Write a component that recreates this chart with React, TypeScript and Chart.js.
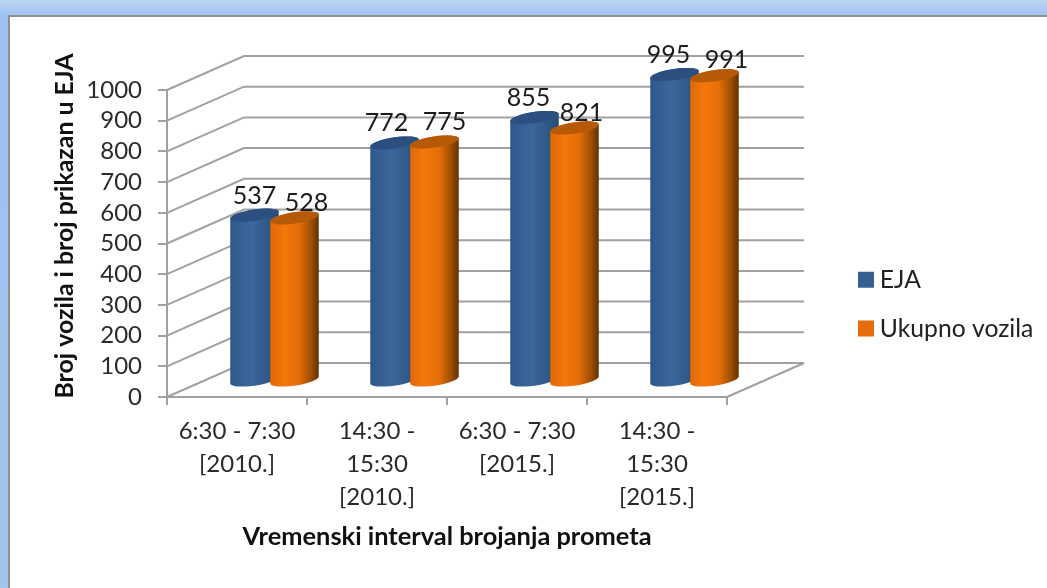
import React, { useEffect, useRef } from "react";
import { Chart, registerables } from "chart.js";

Chart.register(...registerables);

const categories = [
  ["6:30 - 7:30", "[2010.]"],
  ["14:30 -", "15:30", "[2010.]"],
  ["6:30 - 7:30", "[2015.]"],
  ["14:30 -", "15:30", "[2015.]"],
];
const ejaValues = [537, 772, 855, 995];
const totalValues = [528, 775, 821, 991];
const seriesNames = ["EJA", "Ukupno vozila"];
const yTitle = "Broj vozila i broj prikazan u EJA";
const xTitle = "Vremenski interval brojanja prometa";

const FONT = "Lato";
const DEPTH_X = 77;
const DEPTH_Y = -34;
const BAR_SHIFT_X = 37.5;
const GRID = "#a0a0a0";
const labelShiftX = [
  [0, -8, -6, -6],
  [12, 10, 7, 12],
];
const labelShiftY = [
  [-19, -20, -19.5, -20],
  [-15, -20, -15, -16],
];
const gradients = [
  [[0, "#2d578a"], [0.15, "#325e92"], [0.45, "#3b679b"], [0.75, "#315a8a"], [1, "#264a75"]],
  [[0, "#de6807"], [0.3, "#f5780a"], [0.6, "#e36d08"], [0.85, "#9a4c05"], [1, "#5f3003"]],
];
const capColors = ["#2b5080", "#b65a07"];

function cylinder(ctx: CanvasRenderingContext2D, cx: number, top: number, base: number, rx: number, index: number) {
  const ry = 5.6;
  const a = (-8.5 * Math.PI) / 180;
  const t0 = Math.atan((-ry / rx) * Math.tan(a));
  const g = ctx.createLinearGradient(cx - rx, 0, cx + rx, 0);
  gradients[index].forEach(([o, c]) => g.addColorStop(o as number, c as string));
  ctx.beginPath();
  ctx.ellipse(cx, base, rx, ry, a, t0, t0 + Math.PI);
  ctx.ellipse(cx, top, rx, ry, a, t0 + Math.PI, t0 + 2 * Math.PI);
  ctx.closePath();
  ctx.fillStyle = g;
  ctx.fill();
  ctx.beginPath();
  ctx.ellipse(cx, top, rx, ry, a, 0, Math.PI * 2);
  ctx.fillStyle = capColors[index];
  ctx.fill();
}

const scene3d = {
  id: "scene3d",
  afterLayout(chart: any) {
    const legend = chart.legend;
    legend.left = 840.5;
    legend.right = 1047;
    legend.top = 243.5;
    legend.bottom = 400;
    const y = chart.scales.y;
    if (!y.__patched) {
      const orig = y.drawTitle;
      y.drawTitle = function (area: any) {
        chart.ctx.save();
        chart.ctx.translate(0, -17.5);
        orig.call(this, area);
        chart.ctx.restore();
      };
      y.__patched = true;
    }
  },
  beforeDatasetsDraw(chart: any) {
    const { ctx, chartArea: c, scales } = chart;
    ctx.save();
    ctx.strokeStyle = GRID;
    ctx.lineWidth = 2;
    scales.y.ticks.forEach((t: any) => {
      const py = scales.y.getPixelForValue(t.value);
      ctx.beginPath();
      ctx.moveTo(c.left, py);
      ctx.lineTo(c.left + DEPTH_X, py + DEPTH_Y);
      ctx.lineTo(c.right + DEPTH_X, py + DEPTH_Y);
      ctx.stroke();
    });
    ctx.beginPath();
    ctx.moveTo(c.right, c.bottom);
    ctx.lineTo(c.right + DEPTH_X, c.bottom + DEPTH_Y);
    ctx.stroke();
    ctx.restore();
  },
  beforeDatasetDraw() {
    return false;
  },
  afterDatasetsDraw(chart: any) {
    const { ctx } = chart;
    ctx.save();
    const m0 = chart.getDatasetMeta(0).data;
    const m1 = chart.getDatasetMeta(1).data;
    m0.forEach((_: any, i: number) => {
      [m0[i], m1[i]].forEach((bar: any, s: number) => {
        cylinder(ctx, bar.x + BAR_SHIFT_X, bar.y + DEPTH_Y / 2, bar.base + DEPTH_Y / 2 + 1, bar.width / 2, s);
      });
    });
    ctx.font = `25px ${FONT}`;
    ctx.fillStyle = "#1c1c1c";
    ctx.textAlign = "center";
    ctx.textBaseline = "middle";
    [m0, m1].forEach((m: any[], s: number) => {
      m.forEach((bar: any, i: number) => {
        const v = chart.data.datasets[s].data[i];
        ctx.fillText(String(v), bar.x + BAR_SHIFT_X + labelShiftX[s][i], bar.y + DEPTH_Y / 2 + labelShiftY[s][i]);
      });
    });
    ctx.restore();
  },
};

export default function App() {
  const ref = useRef<HTMLCanvasElement>(null);
  useEffect(() => {
    document.body.style.margin = "0";
    const chart = new Chart(ref.current as HTMLCanvasElement, {
      type: "bar",
      data: {
        labels: categories as any,
        datasets: [
          { label: seriesNames[0], data: ejaValues, backgroundColor: "#376092", borderWidth: 0, categoryPercentage: 80 / 140, barPercentage: 1.225 },
          { label: seriesNames[1], data: totalValues, backgroundColor: "#E46C0A", borderWidth: 0, categoryPercentage: 80 / 140, barPercentage: 1.225 },
        ],
      },
      options: {
        responsive: false,
        animation: false,
        layout: { padding: { left: 50.4, top: 90, right: 320, bottom: 35.8 } },
        plugins: {
          tooltip: { enabled: false },
          legend: {
            position: "chartArea",
            align: "start",
            labels: {
              usePointStyle: true,
              pointStyle: "rect",
              boxWidth: 3,
              boxHeight: 16,
              padding: 24,
              color: "#222",
              font: { family: FONT, size: 24.7 },
            },
          },
        },
        scales: {
          x: {
            afterFit: (s: any) => { s.height = 588 - 397 - 35.8; },
            border: { display: true, color: GRID, width: 2 },
            grid: { drawOnChartArea: false, drawTicks: true, tickLength: 8, color: GRID, lineWidth: 2 },
            ticks: { color: "#2a2a2a", maxRotation: 0, minRotation: 0, autoSkip: false, padding: 10, font: { family: FONT, size: 24, lineHeight: 1.375 } },
            title: { display: true, text: xTitle, color: "#111", padding: 0, font: { family: FONT, size: 25.4, weight: "bold" } },
          },
          y: {
            min: 0,
            max: 1000,
            afterFit: (s: any) => { s.width = 167 - 50.4; },
            border: { display: true, color: GRID, width: 2 },
            grid: { drawOnChartArea: false, drawTicks: true, tickLength: 9, color: GRID, lineWidth: 2 },
            ticks: { stepSize: 100, autoSkip: false, color: "#2a2a2a", padding: 16, font: { family: FONT, size: 24 }, callback: (v: any) => String(v) },
            title: { display: true, text: yTitle, color: "#111", padding: 0, font: { family: FONT, size: 24.9, weight: "bold" } },
          },
        },
      },
      plugins: [scene3d],
    } as any);
    return () => chart.destroy();
  }, []);
  return (
    <div style={{ position: "relative", width: 1047, height: 588, overflow: "hidden", background: "linear-gradient(#bcd6f5 0, #9dc1ee 16px, #a3c4ee 100%)" }}>
      <div style={{ position: "absolute", left: 8, top: 15, right: 0, bottom: 0, background: "#fff", borderLeft: "2px solid #8f8f8f", borderTop: "2px solid #8f8f8f" }} />
      <canvas ref={ref} width={1047} height={588} style={{ position: "absolute", left: 0, top: 0, display: "block" }} />
    </div>
  );
}
